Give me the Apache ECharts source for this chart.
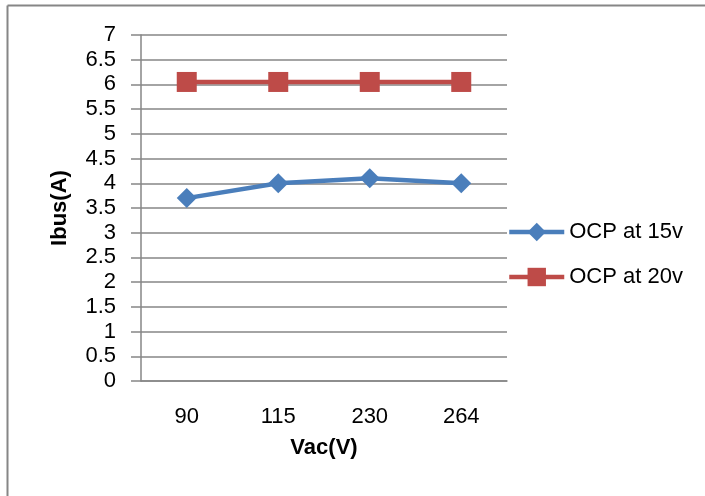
<!DOCTYPE html>
<html>
<head>
<meta charset="utf-8">
<script src="https://cdn.jsdelivr.net/npm/echarts@6/dist/echarts.min.js"></script>
<style>
  html, body { margin: 0; padding: 0; background: #fff; }
  #chart { width: 705px; height: 496px; }
</style>
</head>
<body>
<div id="chart"></div>
<script>
// Input AC voltage (V) categories
const vacCategories = ['90', '115', '230', '264'];
// Bus current (A) at over-current protection
const ocp15v = [3.7, 4.0, 4.1, 4.0];
const ocp20v = [6.05, 6.05, 6.05, 6.05];

const FONT = '"Liberation Sans", "DejaVu Sans", sans-serif';
const GRAY = '#868686';
const FS = 22;

const chart = echarts.init(document.getElementById('chart'), null, { renderer: 'canvas' });

chart.setOption({
  animation: false,
  backgroundColor: '#ffffff',
  textStyle: { fontFamily: FONT },
  graphic: [
    { type: 'line', shape: { x1: 7.5, y1: 5.5, x2: 705, y2: 5.5 }, style: { stroke: GRAY, lineWidth: 2 } },
    { type: 'line', shape: { x1: 7.5, y1: 5.5, x2: 7.5, y2: 496 }, style: { stroke: GRAY, lineWidth: 2 } }
  ],
  grid: { left: 141, right: 198, top: 35, bottom: 115, containLabel: false },
  legend: {
    orient: 'vertical',
    left: 502,
    top: 216,
    itemWidth: 55,
    itemHeight: 23,
    itemGap: 23,
    lineStyle: { width: 4.5 },
    textStyle: { fontFamily: FONT, fontSize: FS, color: '#000' },
    data: ['OCP at 15v', 'OCP at 20v']
  },
  xAxis: {
    type: 'category',
    data: vacCategories,
    boundaryGap: true,
    name: 'Vac(V)',
    nameLocation: 'middle',
    nameGap: 56,
    nameTextStyle: { fontFamily: FONT, fontSize: FS, fontWeight: 'bold', color: '#000' },
    axisLine: { show: true, lineStyle: { color: GRAY, width: 1.5 } },
    axisTick: { show: false },
    axisLabel: { margin: 25, fontFamily: FONT, fontSize: FS, color: '#000' },
    splitLine: { show: false }
  },
  yAxis: {
    type: 'value',
    min: 0,
    max: 7,
    interval: 0.5,
    name: 'Ibus(A)',
    nameLocation: 'middle',
    nameGap: 70,
    nameRotate: 90,
    nameTextStyle: { fontFamily: FONT, fontSize: FS, fontWeight: 'bold', color: '#000' },
    axisLine: { show: true, lineStyle: { color: GRAY, width: 1.5 } },
    axisTick: { show: true, length: 10, lineStyle: { color: GRAY, width: 1.5 } },
    axisLabel: { margin: 25, fontFamily: FONT, fontSize: FS, color: '#000' },
    splitLine: { show: true, lineStyle: { color: GRAY, width: 1.5 } }
  },
  series: [
    {
      name: 'OCP at 15v',
      type: 'line',
      data: ocp15v,
      symbol: 'diamond',
      symbolSize: 20,
      lineStyle: { color: '#4A7EBB', width: 4.5 },
      itemStyle: { color: '#4A7EBB' }
    },
    {
      name: 'OCP at 20v',
      type: 'line',
      data: ocp20v,
      symbol: 'rect',
      symbolSize: 20,
      lineStyle: { color: '#BE4B48', width: 4.5 },
      itemStyle: { color: '#BE4B48' }
    }
  ]
});
</script>
</body>
</html>
